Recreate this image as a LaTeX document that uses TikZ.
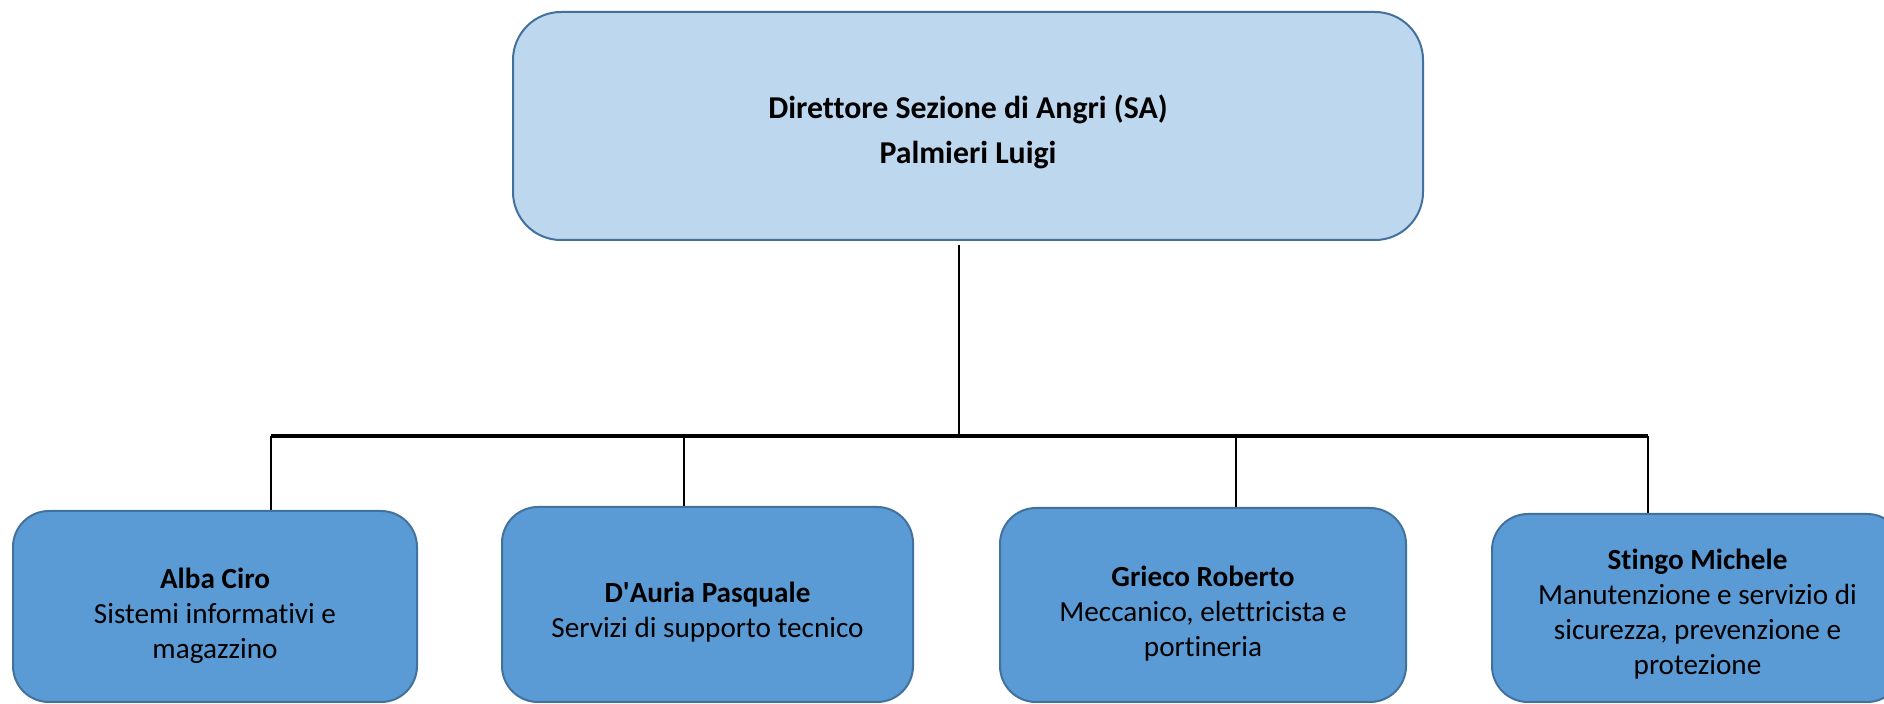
\documentclass[tikz,border=0pt]{standalone}
\usepackage{fontspec}
\setmainfont{Carlito}[Ligatures={NoCommon}]
\definecolor{topfill}{HTML}{BDD7EE}
\definecolor{boxfill}{HTML}{5B9BD5}
\definecolor{boxline}{HTML}{41719C}
\begin{document}
\begin{tikzpicture}[x=0.5pt,y=-0.5pt,
  headbox/.style={draw=boxline, line width=1pt, fill=topfill, rounded corners=24pt,
    minimum width=455pt, minimum height=114pt, inner sep=0pt},
  headtext/.style={align=center, inner sep=0pt,
    font=\fontsize{15.9}{22.5}\selectfont\bfseries},
  unitbox/.style={draw=boxline, line width=1pt, fill=boxfill, rounded corners=18pt,
    inner sep=0pt},
  unittext/.style={align=center, inner sep=0pt, font=\fontsize{14.6}{17.5}\selectfont},
  link/.style={line width=1.4pt},
  bus/.style={line width=2pt}]
\useasboundingbox (0,0) rectangle (1884,704);
\fill[white] (0,0) rectangle (1884,704);
\clip (0,0) rectangle (1884,704);

\node[headbox] (dir) at (968,126) {};
\node[headtext] (dirt) at ([yshift=-2.8pt]dir.center) {Direttore Sezione di Angri (SA)\\Palmieri Luigi};

\node[unitbox, minimum width=202pt, minimum height=95.5pt] (b1) at (215,606.5) {};
\node[unitbox, minimum width=205.5pt, minimum height=97.5pt] (b2) at (707.5,604.5) {};
\node[unitbox, minimum width=203pt, minimum height=97pt] (b3) at (1203,605) {};
\node[unitbox, minimum width=205.5pt, minimum height=94pt] (b4) at (1697.5,608) {};

\node[unittext] (b1t) at ([yshift=-4.5pt]b1.center)
  {\textbf{Alba Ciro}\\Sistemi informativi e\\magazzino};
\node[unittext] (b2t) at ([yshift=-3.8pt]b2.center)
  {\textbf{D\textquotesingle Auria Pasquale}\\Servizi di supporto tecnico};
\node[unittext] (b3t) at ([yshift=-4.5pt]b3.center)
  {\textbf{Grieco Roberto}\\Meccanico, elettricista e\\portineria};
\node[unittext] (b4t) at ([yshift=-3pt]b4.center)
  {\textbf{Stingo Michele}\\Manutenzione e servizio di\\sicurezza, prevenzione e\\protezione};

\coordinate (busM) at (959,436);
\coordinate (d1) at (271,436);
\coordinate (d2) at (684,436);
\coordinate (d3) at (1236,436);
\coordinate (d4) at (1648,436);

\draw[link] ([yshift=-2pt]dir.south -| busM) -- (busM);
\draw[bus] (d1) -- (d4);
\draw[link] (d1) -- (b1.north -| d1);
\draw[link] (d2) -- (b2.north -| d2);
\draw[link] (d3) -- (b3.north -| d3);
\draw[link] (d4) -- (b4.north -| d4);
\end{tikzpicture}
\end{document}
